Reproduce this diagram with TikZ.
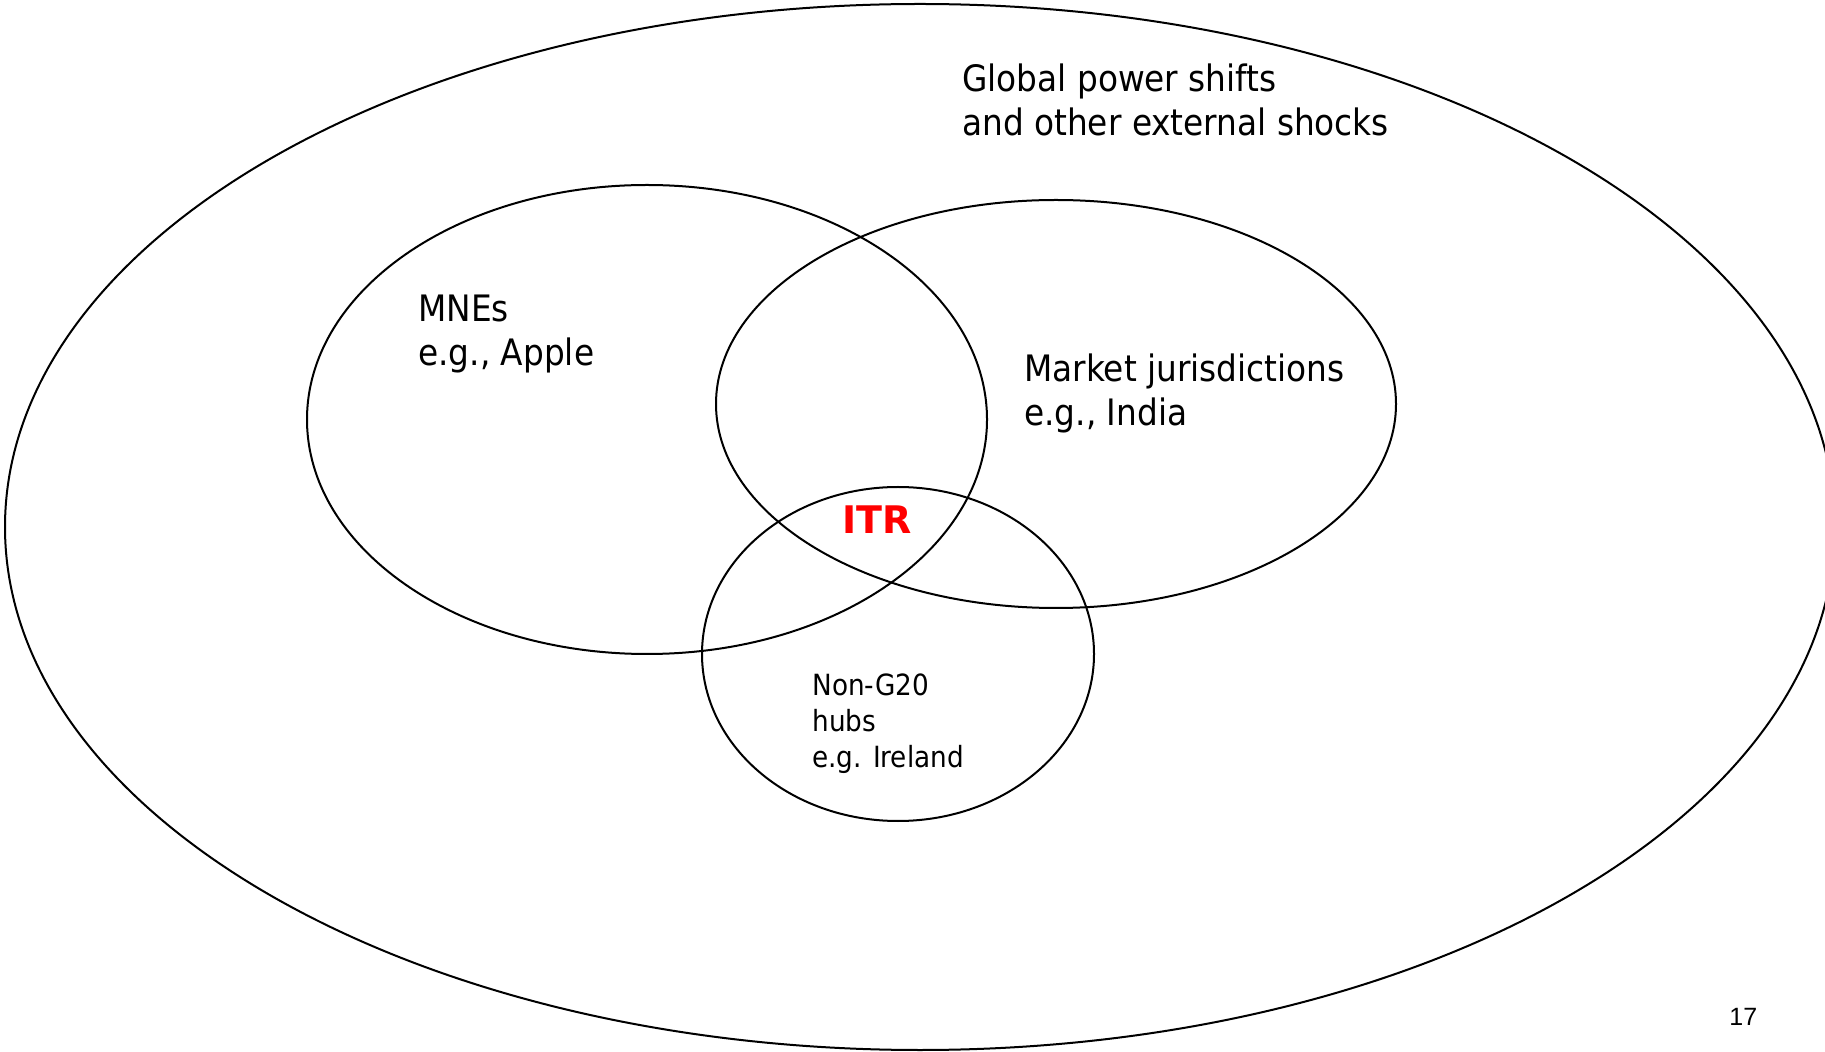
\documentclass[tikz,border=0pt]{standalone}
\usepackage{fontspec}
\setmainfont{DejaVu Sans Condensed}
\newfontfamily\widefont{DejaVu Sans}
\newfontfamily\pagenumfont{Liberation Sans}
\begin{document}
% one unit = one pixel of a 1825 x 1052 slide, y pointing down;
% multi-line labels are anchored at the baseline of their last line
\begin{tikzpicture}[x=0.5pt,y=-0.5pt,
  ring/.style={draw=black,line width=1pt},
  biglabel/.style={anchor=base west,align=left,inner sep=0pt,
    font=\fontsize{18.2pt}{22.3pt}\selectfont},
  smalllabel/.style={anchor=base west,align=left,inner sep=0pt,
    font=\fontsize{14.6pt}{17.9pt}\selectfont},
  keylabel/.style={anchor=base west,inner sep=0pt,text=red,
    font=\widefont\fontsize{19pt}{22pt}\selectfont\bfseries}]
  \useasboundingbox (0,0) rectangle (1825,1052);

  % outer environment and the three overlapping actors
  \draw[ring] (920,527) ellipse [x radius=457.5pt, y radius=261.5pt];
  \draw[ring] (647,419.5) ellipse [x radius=170pt, y radius=117.25pt];
  \draw[ring] (1056,404) ellipse [x radius=170pt, y radius=102pt];
  \draw[ring] (898,654) ellipse [x radius=98pt, y radius=83.5pt];

  \node[biglabel] (shocks) at (962,136) {Global power shifts\\and other external shocks};
  \node[biglabel] (mnes) at (418,366) {MNEs\\e.g., Apple};
  \node[biglabel] (market) at (1024,426) {Market jurisdictions\\e.g., India};
  \node[keylabel] (itr) at (842,534) {ITR};
  \node[smalllabel] (hubs) at (812,767) {Non-G20\\hubs\\e.g. Ireland};
  \node[anchor=base west,inner sep=0pt,font=\pagenumfont\fontsize{12.5pt}{14pt}\selectfont]
    (pagenum) at (1729,1025) {17};
\end{tikzpicture}
\end{document}
